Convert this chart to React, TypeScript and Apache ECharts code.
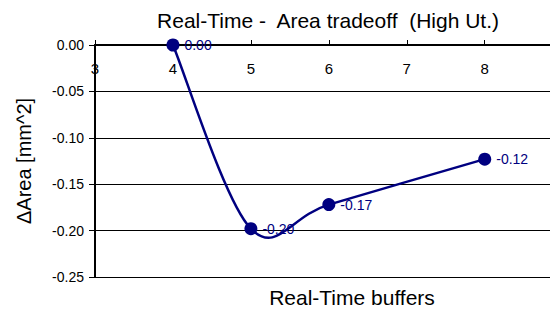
import React, { useEffect, useRef } from "react";
import * as echarts from "echarts";

const buffers = [4, 5, 6, 8];
const deltaArea = [0.0, -0.198, -0.172, -0.123];
const pointLabels = ["0.00", "-0.20", "-0.17", "-0.12"];

export default function App() {
  const ref = useRef<HTMLDivElement>(null);
  useEffect(() => {
    const chart = echarts.init(ref.current!, null, { renderer: "svg" });
    const font = "Arial";
    const navy = "#000080";
    chart.setOption({
      animation: false,
      title: {
        text: "Real-Time -  Area tradeoff  (High Ut.)",
        left: 323,
        textAlign: "center",
        top: 5,
        textStyle: { fontFamily: font, fontSize: 21, fontWeight: "normal", color: "#000" },
      },
      grid: { left: 95, right: 0, top: 45, bottom: 39 },
      xAxis: {
        type: "value",
        position: "top",
        min: 3,
        max: 8.94,
        interval: 1,
        axisLine: { show: true, onZero: false, lineStyle: { color: "#000", width: 2 } },
        axisTick: { show: true, inside: false, length: 5, lineStyle: { color: "#000" } },
        axisLabel: {
          inside: true,
          margin: 16,
          fontFamily: font,
          fontSize: 15,
          color: "#000",
          showMaxLabel: false,
        },
        splitLine: { show: false },
      },
      yAxis: {
        type: "value",
        min: -0.25,
        max: 0,
        interval: 0.05,
        name: "ΔArea [mm^2]",
        nameLocation: "middle",
        nameRotate: 90,
        nameGap: 61,
        nameTextStyle: { fontFamily: font, fontSize: 20, color: "#000" },
        axisLine: { show: true, lineStyle: { color: "#000", width: 2 } },
        axisTick: { show: true, length: 6, lineStyle: { color: "#000" } },
        axisLabel: {
          fontFamily: font,
          fontSize: 14,
          color: "#000",
          margin: 11,
          formatter: (v: number) => v.toFixed(2),
        },
        splitLine: { show: true, lineStyle: { color: "#000", width: 1 } },
      },
      graphic: [
        {
          type: "text",
          x: 352,
          y: 287,
          style: {
            text: "Real-Time buffers",
            fontFamily: font,
            fontSize: 21,
            fill: "#000",
            textAlign: "center",
          },
        },
      ],
      series: [
        {
          type: "custom",
          data: [[buffers[0], deltaArea[0]]],
          silent: true,
          z: 1,
          renderItem: (_params: any, api: any) => {
            const pts = buffers.map((b, i) => api.coord([b, deltaArea[i]]));
            let d = `M${pts[0][0]},${pts[0][1]}`;
            for (let i = 0; i < pts.length - 1; i++) {
              const p0 = pts[i - 1] || pts[i];
              const p1 = pts[i];
              const p2 = pts[i + 1];
              const p3 = pts[i + 2] || pts[i + 1];
              const c1x = p1[0] + (p2[0] - p0[0]) / 6;
              const c1y = p1[1] + (p2[1] - p0[1]) / 6;
              const c2x = p2[0] - (p3[0] - p1[0]) / 6;
              const c2y = p2[1] - (p3[1] - p1[1]) / 6;
              d += ` C${c1x},${c1y} ${c2x},${c2y} ${p2[0]},${p2[1]}`;
            }
            return {
              type: "path",
              shape: { pathData: d },
              style: { stroke: navy, fill: "none", lineWidth: 2.5 },
            };
          },
        },
        {
          type: "line",
          z: 3,
          data: buffers.map((b, i) => [b, deltaArea[i]]),
          symbol: "circle",
          symbolSize: 13,
          itemStyle: { color: navy },
          lineStyle: { width: 0, opacity: 0 },
          label: {
            show: true,
            position: "right",
            distance: 5,
            fontFamily: font,
            fontSize: 14,
            color: navy,
            formatter: (p: any) => pointLabels[p.dataIndex],
          },
        },
      ],
    });
    return () => chart.dispose();
  }, []);
  return <div ref={ref} style={{ width: 558, height: 316, margin: -8 }} />;
}
